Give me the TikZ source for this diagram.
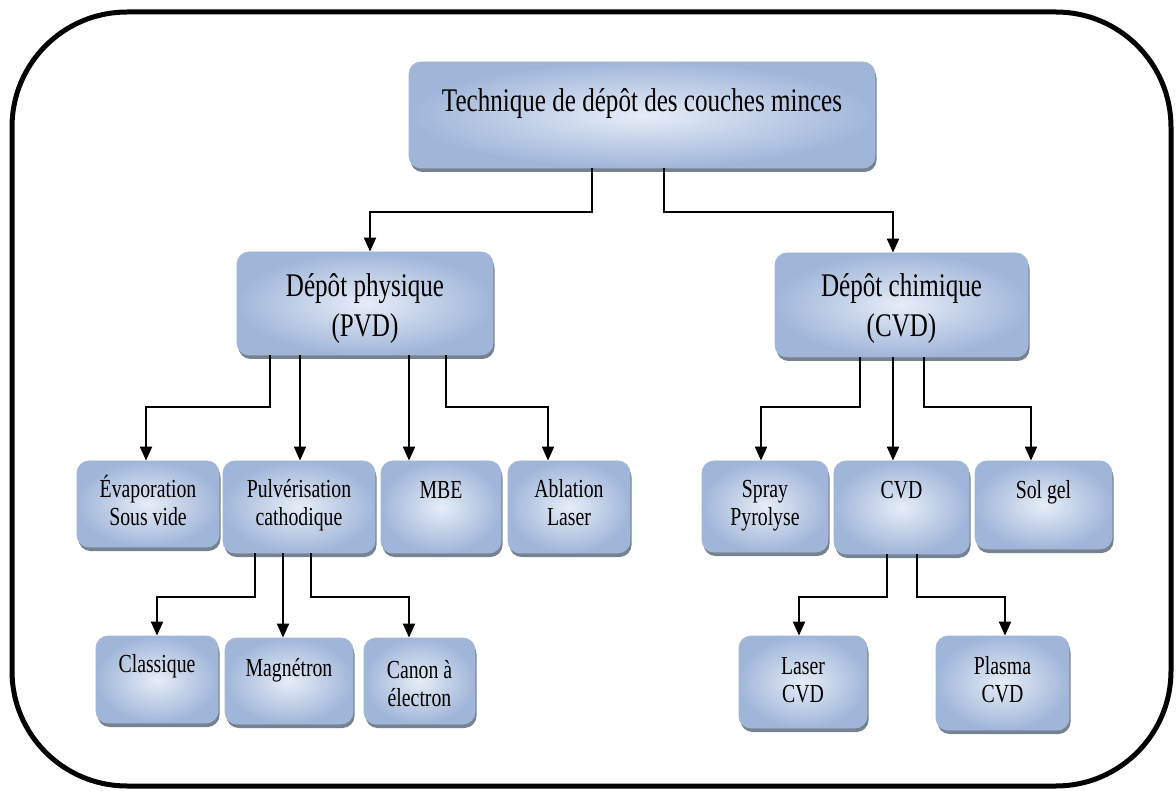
\documentclass[tikz,border=0pt]{standalone}
\usepackage{fontspec}
\setmainfont{Liberation Serif}[FakeStretch=0.76]
\usetikzlibrary{arrows.meta,shadows,calc}
\definecolor{boxin}{RGB}{230,237,247}
\definecolor{boxout}{RGB}{160,182,217}
\definecolor{boxline}{RGB}{165,184,214}
\definecolor{shadowc}{RGB}{95,108,128}
\begin{document}
\begin{tikzpicture}[x=1pt,y=-1pt,
  box/.style={draw=boxline, line width=0.8pt, rounded corners=12pt, inner sep=0pt,
    inner color=boxin, outer color=boxout,
    drop shadow={shadow xshift=1.5pt, shadow yshift=-4pt, fill=shadowc, opacity=0.85}},
  bigtxt/.style={font=\fontsize{33}{40}\selectfont, align=center, anchor=base, inner sep=0pt},
  smalltxt/.style={font=\fontsize{26}{28}\selectfont, align=center, anchor=base, inner sep=0pt},
  arr/.style={line width=2pt, -{Triangle[length=14pt,width=12pt]}}]
\path[fill=white] (0,0) rectangle (1176,791);
\useasboundingbox (0,0) rectangle (1176,791);
\draw[line width=5pt, rounded corners=115pt] (12,12) rectangle (1171,786);

% boxes
\node[box, minimum width=466, minimum height=106] (top) at (642,115) {};
\node[box, minimum width=256, minimum height=103] (pvd) at (365,303.5) {};
\node[box, minimum width=253, minimum height=104] (cvd) at (901.5,305) {};
\node[box, minimum width=142, minimum height=86] (evap) at (148,504) {};
\node[box, minimum width=152, minimum height=92] (pulv) at (299,507) {};
\node[box, minimum width=120, minimum height=92] (mbe) at (441,507) {};
\node[box, minimum width=122, minimum height=92] (abl) at (569,507) {};
\node[box, minimum width=126, minimum height=91] (spray) at (765,506.5) {};
\node[box, minimum width=135, minimum height=93] (cvdm) at (901.5,507.5) {};
\node[box, minimum width=137, minimum height=88] (sol) at (1043.5,505) {};
\node[box, minimum width=122, minimum height=87] (clas) at (157,679.5) {};
\node[box, minimum width=128, minimum height=86] (mag) at (289,681) {};
\node[box, minimum width=111, minimum height=86] (canon) at (419.5,681) {};
\node[box, minimum width=128, minimum height=92] (laser) at (803,682) {};
\node[box, minimum width=133, minimum height=94] (plasma) at (1002.5,683) {};

% texts (base anchor = baseline of the last line)
\node[bigtxt] (topt) at ($(top.north)+(0,50)$) {Technique de dépôt des couches minces};
\node[bigtxt] (pvdt) at ($(pvd.north)+(0,85)$) {Dépôt physique\\(PVD)};
\node[bigtxt] (cvdt) at ($(cvd.north)+(0,84)$) {Dépôt chimique\\(CVD)};
\node[smalltxt] (evapt) at ($(evap.north)+(0,65)$) {Évaporation\\Sous vide};
\node[smalltxt] (pulvt) at ($(pulv.north)+(0,65)$) {Pulvérisation\\cathodique};
\node[smalltxt] (mbet) at ($(mbe.north)+(0,38)$) {MBE};
\node[smalltxt] (ablt) at ($(abl.north)+(0,65)$) {Ablation\\Laser};
\node[smalltxt] (sprayt) at ($(spray.north)+(0,65)$) {Spray\\Pyrolyse};
\node[smalltxt] (cvdmt) at ($(cvdm.north)+(0,38)$) {CVD};
\node[smalltxt] (solt) at ($(sol.north)+(0,38)$) {Sol gel};
\node[smalltxt] (clast) at ($(clas.north)+(0,37)$) {Classique};
\node[smalltxt] (magt) at ($(mag.north)+(0,39)$) {Magnétron};
\node[smalltxt] (canont) at ($(canon.north)+(0,69)$) {Canon à\\électron};
\node[smalltxt] (lasert) at ($(laser.north)+(0,67)$) {Laser\\CVD};
\node[smalltxt] (plasmat) at ($(plasma.north)+(0,67)$) {Plasma\\CVD};

% connectors
\draw[arr] ($(top.south)+(-50,0)$) -- ++(0,44) -| ($(pvd.north)+(5,0)$);
\draw[arr] ($(top.south)+(22,0)$) -- ++(0,44) -| ($(cvd.north)+(-8.5,0)$);

\draw[arr] ($(pvd.south)+(-95,0)$) -- ++(0,52) -| ($(evap.north)+(-2,0)$);
\draw[arr] ($(pvd.south)+(-65,0)$) -- ($(pulv.north)+(1,0)$);
\draw[arr] ($(pvd.south)+(44,0)$) -- ($(mbe.north)+(-32,0)$);
\draw[arr] ($(pvd.south)+(81,0)$) -- ++(0,52) -| ($(abl.north)+(-21,0)$);

\draw[arr] ($(cvd.south)+(-41.5,0)$) -- ++(0,50) -| ($(spray.north)+(-4,0)$);
\draw[arr] ($(cvd.south)+(-8.5,0)$) -- ($(cvdm.north)+(-8.5,0)$);
\draw[arr] ($(cvd.south)+(22.5,0)$) -- ++(0,50) -| ($(sol.north)+(-12.5,0)$);

\draw[arr] ($(pulv.south)+(-44,0)$) -- ++(0,44) -| (clas.north);
\draw[arr] ($(pulv.south)+(-16,0)$) -- ($(mag.north)+(-6,0)$);
\draw[arr] ($(pulv.south)+(12,0)$) -- ++(0,44) -| ($(canon.north)+(-10.5,0)$);

\draw[arr] ($(cvdm.south)+(-14.5,0)$) -- ++(0,43) -| ($(laser.north)+(-4,0)$);
\draw[arr] ($(cvdm.south)+(15.5,0)$) -- ++(0,43) -| ($(plasma.north)+(2.5,0)$);
\end{tikzpicture}
\end{document}
